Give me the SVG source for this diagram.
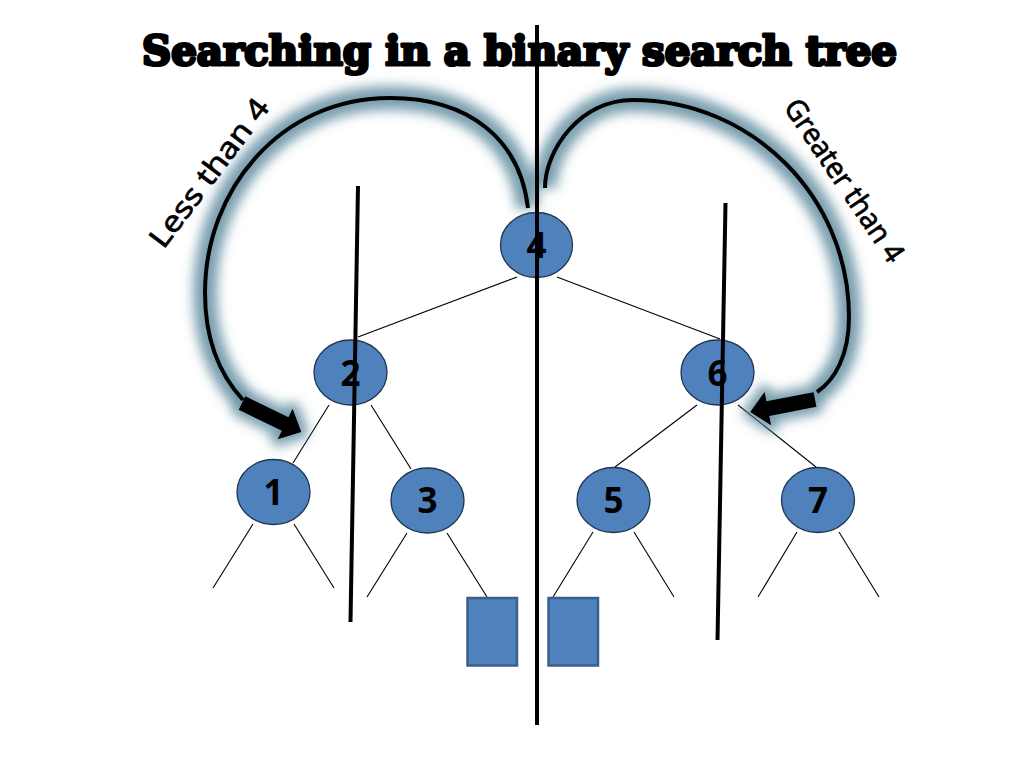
<svg xmlns="http://www.w3.org/2000/svg" width="1024" height="768" viewBox="0 0 1024 768">
  <style>
    .edge { stroke: #000; stroke-width: 1.1; fill: none; }
    .node { fill: #4F81BD; stroke: #1F3550; stroke-width: 1.3; }
    .leaf { fill: #4F81BD; stroke: #3A5F8C; stroke-width: 2.5; }
    .num { font-family: "Open Sans", "Noto Sans", sans-serif; font-weight: 700; font-size: 35px; fill: #000; text-anchor: middle; }
    .lbl { font-family: "Open Sans", "Noto Sans", sans-serif; font-size: 29px; fill: #000; stroke: #000; stroke-width: 0.8; text-anchor: middle; }
    .divider { stroke: #000; stroke-width: 4; fill: none; }
    .curve { stroke: #000; stroke-width: 4; fill: none; }
    .glow { stroke: #4E7F93; stroke-width: 24; fill: none; opacity: 0.75; }
    .glowhead { fill: #4E7F93; stroke: #4E7F93; stroke-width: 14; stroke-linejoin: round; opacity: 0.75; }
    .title { font-family: "DejaVu Serif", "Liberation Serif", serif; font-weight: 900; font-size: 41px; fill: #000; stroke: #000; stroke-width: 3.2; stroke-linejoin: round; }
  </style>
  <defs>
    <filter id="blur" x="-20%" y="-20%" width="140%" height="140%">
      <feGaussianBlur stdDeviation="6"/>
    </filter>
    <path id="blockArrow" d="M0,-7.5 L48,-7.5 L48,-17 L66,0 L48,17 L48,7.5 L0,7.5 Z"/>
  </defs>
  <rect x="0" y="0" width="1024" height="768" fill="#fff"/>

  <g id="connectors">
    <line class="edge" x1="517" y1="277" x2="358" y2="337"/>
    <line class="edge" x1="557" y1="277" x2="720" y2="339"/>
    <line class="edge" x1="329" y1="405" x2="293" y2="463"/>
    <line class="edge" x1="371" y1="405" x2="411" y2="469"/>
    <line class="edge" x1="697" y1="405" x2="615" y2="467"/>
    <line class="edge" x1="738" y1="405" x2="816" y2="467"/>
    <line class="edge" x1="253" y1="524" x2="213" y2="588"/>
    <line class="edge" x1="294" y1="524" x2="334" y2="588"/>
    <line class="edge" x1="407" y1="533" x2="367" y2="597"/>
    <line class="edge" x1="447" y1="533" x2="487" y2="597"/>
    <line class="edge" x1="593" y1="532" x2="553" y2="597"/>
    <line class="edge" x1="634" y1="532" x2="674" y2="597"/>
    <line class="edge" x1="797" y1="532" x2="758" y2="597"/>
    <line class="edge" x1="839" y1="532" x2="879" y2="597"/>
  </g>

  <g id="node4"><ellipse class="node" cx="536.5" cy="245" rx="36" ry="32.5"/><text class="num" x="536.5" y="257.5">4</text></g>
  <g id="node2"><ellipse class="node" cx="350.5" cy="372.5" rx="36.5" ry="32.5"/><text class="num" x="350.5" y="385.5">2</text></g>
  <g id="node6"><ellipse class="node" cx="717.5" cy="372.5" rx="36.5" ry="32.5"/><text class="num" x="717.5" y="385.5">6</text></g>
  <g id="node1"><ellipse class="node" cx="273.5" cy="492" rx="36.5" ry="32.5"/><text class="num" x="273.5" y="504.5">1</text></g>
  <g id="node3"><ellipse class="node" cx="427.5" cy="500.5" rx="36.5" ry="32.5"/><text class="num" x="427.5" y="513">3</text></g>
  <g id="node5"><ellipse class="node" cx="613.5" cy="500" rx="36.5" ry="32.5"/><text class="num" x="613.5" y="513">5</text></g>
  <g id="node7"><ellipse class="node" cx="818" cy="500" rx="36.5" ry="32.5"/><text class="num" x="818" y="513">7</text></g>
  <g id="leafL"><rect class="leaf" x="467.5" y="598" width="49.5" height="67.5"/></g>
  <g id="leafR"><rect class="leaf" x="548.5" y="598" width="49.5" height="67.5"/></g>

  <g id="search-arrows">
    <g filter="url(#blur)">
      <path class="glow" d="M528,208 C520,140 470,98 390,98 C280,98 205,190 205,293 C205,340 220,375 243,400"/>
      <path class="glow" d="M545,188 C545,150 580,100 633,100 C752,100 849,197 849,317 C849,355 835,380 817,392"/>
      <use href="#blockArrow" class="glowhead" transform="translate(242,403) rotate(26)"/>
      <use href="#blockArrow" class="glowhead" transform="translate(815,399.5) rotate(169)"/>
    </g>
    <path class="curve" d="M528,208 C520,140 470,98 390,98 C280,98 205,190 205,293 C205,340 220,375 243,400"/>
    <path class="curve" d="M545,188 C545,150 580,100 633,100 C752,100 849,197 849,317 C849,355 835,380 817,392"/>
    <use href="#blockArrow" fill="#000" transform="translate(242,403) rotate(26)"/>
    <use href="#blockArrow" fill="#000" transform="translate(815,399.5) rotate(169)"/>
  </g>

  <text class="lbl" transform="translate(217,179) rotate(-53)" textLength="178" lengthAdjust="spacingAndGlyphs">Less than 4</text>
  <text class="lbl" transform="translate(836,186) rotate(56)" textLength="190" lengthAdjust="spacingAndGlyphs">Greater than 4</text>

  <text class="title" x="142" y="65" textLength="755" lengthAdjust="spacingAndGlyphs">Searching in a binary search tree</text>

  <g id="dividers">
    <line class="divider" x1="537" y1="25" x2="537" y2="725"/>
    <line class="divider" x1="358" y1="186" x2="350.5" y2="622"/>
    <line class="divider" x1="725.5" y1="203" x2="717.5" y2="640"/>
  </g>
</svg>
